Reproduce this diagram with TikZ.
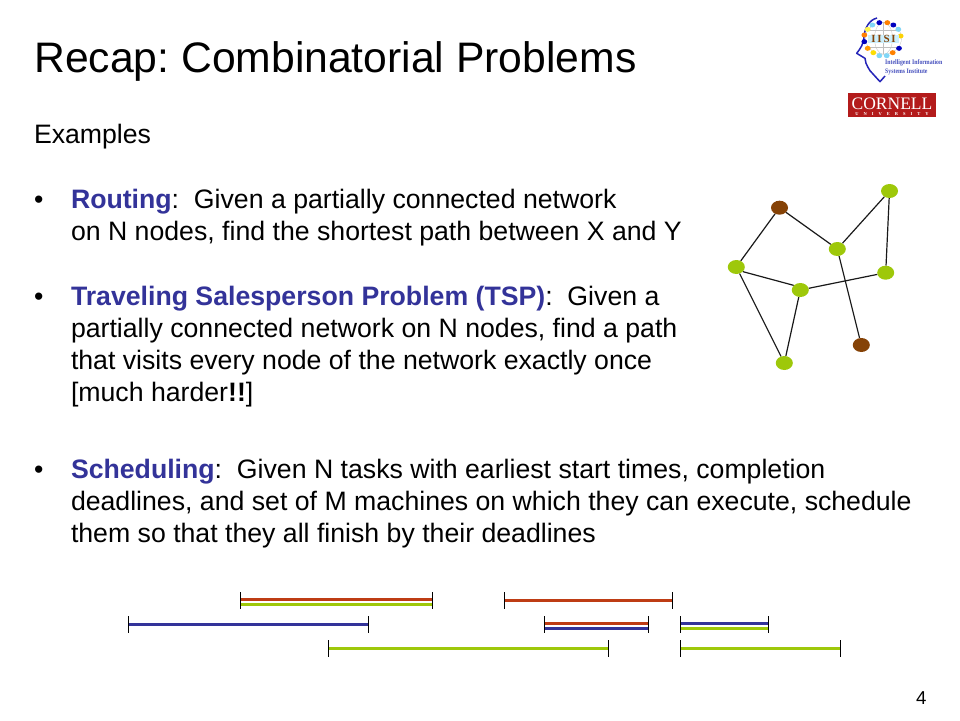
\documentclass[tikz,border=0pt]{standalone}
\usepackage{fontspec}
\usepackage{graphicx}
\setmainfont{Liberation Sans}
\newfontfamily\logoserif{Liberation Serif}
\frenchspacing
\definecolor{headblue}{RGB}{51,51,153}
\definecolor{grn}{RGB}{158,200,10}
\definecolor{brn}{RGB}{133,66,6}
\definecolor{barred}{RGB}{190,60,20}
\definecolor{cornellred}{RGB}{179,27,27}
\definecolor{logoblue}{RGB}{70,80,190}
\tikzset{
  txt/.style={anchor=base west,inner sep=0pt,outer sep=0pt,font=\fontsize{26.67}{26.67}\selectfont},
  titletxt/.style={anchor=base west,inner sep=0pt,font=\fontsize{42.67}{42.67}\selectfont},
  gnode/.style={ellipse,fill=grn,minimum width=17pt,minimum height=14pt,inner sep=0pt},
  bnode/.style={ellipse,fill=brn,minimum width=17pt,minimum height=14pt,inner sep=0pt},
  edge/.style={draw=black!90,line width=1.2pt},
  tick/.style={draw=black,line width=1.1pt},
  logotxt/.style={anchor=base west,inner sep=0pt,font=\logoserif\bfseries\fontsize{6.9}{6.9}\selectfont,text=logoblue},
}
\usetikzlibrary{shapes.geometric}
\newcommand{\kw}[1]{\textcolor{headblue}{\textbf{#1}}}
\newcommand{\schedbar}[5]{% name, x1, x2, y, colour
  \coordinate (#1a) at (#2,#4); \coordinate (#1b) at (#3,#4);
  \fill[#5] ([yshift=1.5pt]#1a) rectangle ([yshift=-1.5pt]#1b);
}
\newcommand{\ticks}[4]{% x1, x2, ytop, ybottom
  \draw[tick] (#1,#3) -- (#1,#4);
  \draw[tick] (#2,#3) -- (#2,#4);
}
\begin{document}
\begin{tikzpicture}[x=1pt,y=-1pt]
\useasboundingbox (0,0) rectangle (960,720);
\fill[white] (0,0) rectangle (960,720);
\node[titletxt] (title) at (34,72) {Recap: Combinatorial Problems};
\node[txt] (ex) at (34,143) {Examples};
\node[txt] (b1) at (34,208) {•};
\node[txt] (l1) at (71,208) {\kw{Routing}:\ \ Given a partially connected network};
\node[txt] (l2) at (71,240) {on N nodes, find the shortest path between X and Y};
\node[txt] (b2) at (34,305) {•};
\node[txt] (l3) at (71,305) {\kw{Traveling Salesperson Problem (TSP)}:\ \ Given a};
\node[txt] (l4) at (71,337) {partially connected network on N nodes, find a path};
\node[txt] (l5) at (71,369) {that visits every node of the network exactly once};
\node[txt] (l6) at (71,401) {[much harder\textbf{!!}]};
\node[txt] (b3) at (34,478) {•};
\node[txt] (l7) at (71,478) {\kw{Scheduling}:\ \ Given N tasks with earliest start times, completion};
\node[txt] (l8) at (71,510) {deadlines, and set of M machines on which they can execute, schedule};
\node[txt] (l9) at (71,542) {them so that they all finish by their deadlines};
\node[anchor=base west,inner sep=0pt,font=\fontsize{18.67}{18.67}\selectfont] (pg) at (916,704) {4};
% graph
\node[bnode] (n1) at (779.5,207.7) {};
\node[gnode] (n2) at (889.5,191) {};
\node[gnode] (n3) at (837.3,249) {};
\node[gnode] (n4) at (885.7,272.7) {};
\node[gnode] (n5) at (736.3,267) {};
\node[gnode] (n6) at (800.3,290) {};
\node[gnode] (n7) at (784.3,363) {};
\node[bnode] (n8) at (861.3,345) {};
\draw[edge] (n1)--(n5);
\draw[edge] (n1)--(n3);
\draw[edge] (n3)--(n2);
\draw[edge] (n2)--(n4);
\draw[edge] (n4)--(n6);
\draw[edge] (n6.145)--(n5.-35);
\draw[edge] (n5)--(n7);
\draw[edge] (n6)--(n7);
\draw[edge] (n3)--(n8);
% bars
\schedbar{r1}{240.5}{432.5}{599.5}{barred}
\schedbar{g1}{240.5}{432.5}{604.5}{grn}
\ticks{240.5}{432.5}{592.3}{609}
\schedbar{u1}{128.5}{368.5}{624.5}{headblue}
\ticks{128.5}{368.5}{616}{632.7}
\schedbar{g2}{328.5}{608.5}{648.5}{grn}
\ticks{328.5}{608.5}{640}{656.7}
\schedbar{r2}{504.5}{672.5}{600.0}{barred}
\ticks{504.5}{672.5}{592.3}{609}
\schedbar{r3}{544.5}{648.5}{623.5}{barred}
\schedbar{u2}{544.5}{648.5}{628.5}{headblue}
\ticks{544.5}{648.5}{616}{632.7}
\schedbar{u3}{680.5}{768.5}{623.5}{headblue}
\schedbar{g3}{680.5}{768.5}{628.5}{grn}
\ticks{680.5}{768.5}{616}{632.7}
\schedbar{g4}{680.5}{840.5}{648.5}{grn}
\ticks{680.5}{840.5}{640}{656.7}
% logo
\draw[headblue!70!blue,line width=1.5pt,line join=round] (877,18) .. controls (869,20) and (865,28) .. (864,36)
  .. controls (864,44) and (860,49) .. (856.7,53.3) -- (865,58.3) -- (866,63.3) .. controls (867,66) and (869,69) .. (870,70.7)
  -- (880,81.7) -- (885,76);
\draw[gray!50,line width=0.3pt] (883.5,38.3) circle[x radius=18,y radius=16];
\draw[gray!50,line width=0.3pt] (883.5,38.3) circle[x radius=9,y radius=16];
\draw[gray!50,line width=0.3pt] (867,30)--(900,30) (867,47)--(900,47) (883.5,22)--(883.5,54);
\foreach \x/\y/\c in {148/68/blue!75!black,172/68/orange,190/75/blue!75!black,205/88/cyan!50,212/108/yellow!70!orange,207/145/blue!75!black,188/158/orange,170/167/cyan!50,148/167/cyan!50,130/158/yellow!80!orange,113/145/orange!80!yellow,103/125/blue!75!black,103/105/orange,113/88/yellow!70,127/75/cyan!50}
  \fill[\c] ({830+\x/3},{\y/3}) circle[x radius=2.9,y radius=2.5];
\fill[cyan!20] (868,34.5) rectangle (899,42.5);
\node[inner sep=0pt,font=\logoserif\bfseries\fontsize{11}{11}\selectfont,text=brn] (iisi) at (883.5,38.5) {I\,I\,S\,I};
\node[logotxt] (lt1) at (885,64.5) {\scalebox{0.84}[1]{Intelligent Information}};
\node[logotxt] (lt2) at (885,73) {\scalebox{0.84}[1]{Systems Institute}};
\fill[cornellred] (848.3,93.3) rectangle (936,116.7);
\node[anchor=base,inner sep=0pt,font=\logoserif\fontsize{17.5}{17.5}\selectfont,text=white] (cor) at (892,109.3) {CORNELL};
\node[inner sep=0pt,font=\logoserif\bfseries\fontsize{4.5}{4.5}\selectfont,text=white] (uni) at (892,113.6) {U\hspace{5pt}N\hspace{5pt}I\hspace{5pt}V\hspace{5pt}E\hspace{5pt}R\hspace{5pt}S\hspace{5pt}I\hspace{5pt}T\hspace{5pt}Y};
\end{tikzpicture}
\end{document}
